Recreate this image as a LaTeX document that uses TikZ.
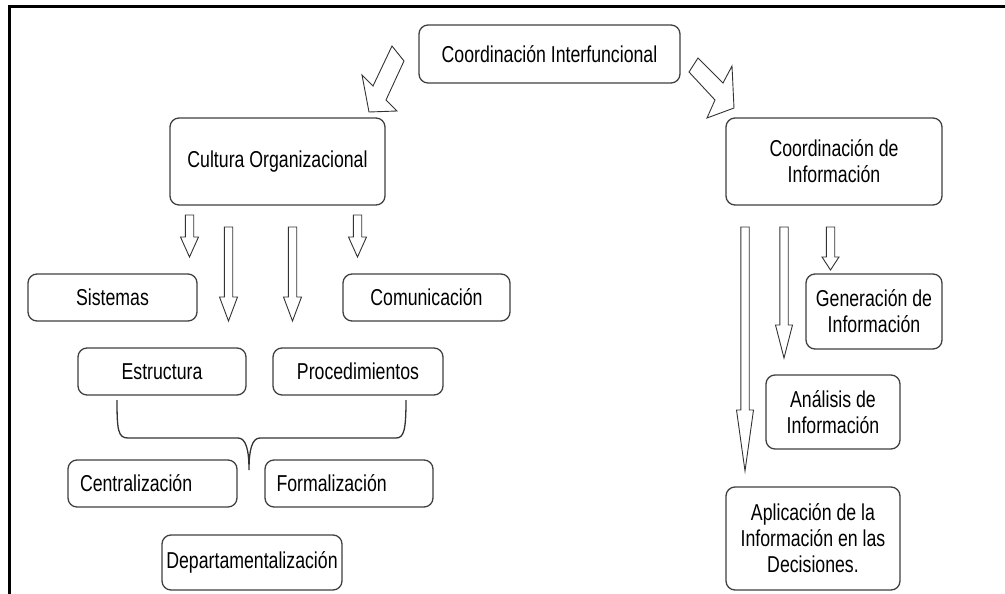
\documentclass[tikz,border=0pt]{standalone}
\usepackage{fontspec}
\setmainfont[FakeStretch=0.77]{Liberation Sans}
\begin{document}
\begin{tikzpicture}[x=1pt,y=-1pt,line width=1pt,
	box/.style={draw=black!75,line width=1.3pt,rounded corners=9pt,fill=white,align=center,inner sep=0pt,font=\fontsize{23}{26}\selectfont},
	blk/.style={draw=black!80,line width=0.9pt,fill=white,line join=miter}]
	\useasboundingbox (0,0) rectangle (1005,594);
	% marco
	\draw[line width=3pt] (9,594) -- (9,6.5) -- (1005,6.5);
	% cajas
	\node[box,minimum width=261pt,minimum height=58pt] (ci) at (549.5,54) {Coordinación Interfuncional};
	\node[box,minimum width=215pt,minimum height=87pt] (co) at (277.5,161.5) {Cultura Organizacional};
	\node[box,minimum width=216pt,minimum height=87pt] (cinf) at (834,161.5) {Coordinación de\\Información};
	\node[box,minimum width=169pt,minimum height=47pt] (sis) at (112.5,297.5) {Sistemas};
	\node[box,minimum width=167pt,minimum height=47pt] (com) at (426.5,297.5) {Comunicación};
	\node[box,minimum width=168pt,minimum height=47pt] (est) at (162,371.5) {Estructura};
	\node[box,minimum width=170pt,minimum height=47pt] (proc) at (358,371.5) {Procedimientos};
	\node[box,minimum width=169pt,minimum height=47pt,text width=145pt,align=left] (cen) at (152.5,483.5) {Centralización};
	\node[box,minimum width=168pt,minimum height=47pt,text width=145pt,align=left] (form) at (349,483.5) {Formalización};
	\node[box,minimum width=180pt,minimum height=55pt] (dep) at (252,562.5) {Departamentalización};
	\node[box,minimum width=136pt,minimum height=75pt] (gen) at (874,311.5) {Generación de\\Información};
	\node[box,minimum width=134pt,minimum height=74pt] (ana) at (833,412) {Análisis de\\Información};
	\node[box,minimum width=174pt,minimum height=103pt] (apl) at (813,538.5) {Aplicación de la\\Información en las\\Decisiones.};
	% flechas grandes
	\draw[blk] (392,46) -- (373,86) -- (362,75) -- (369,112) -- (397,111) -- (386,100) -- (404,61) -- cycle;
	\draw[blk] (698,58) -- (723,83) -- (732,66) -- (734,108) -- (707,118) -- (715,100) -- (689,72) -- cycle;
	% flechas hacia abajo: x/inicio/cabeza/punta/media cabeza
	\foreach \x/\t/\h/\p/\w in {189.5/215/237/257/9, 228.5/227/297/321/9, 292.5/227/297/321/9, 357.5/215/237/257/9,
		745/227/410/471/8.5, 784/227/325/358/8.5, 830.5/227/257/270/8.5}
		\draw[blk] (\x-4.2,\t) -- (\x+4.2,\t) -- (\x+4.2,\h) -- (\x+\w,\h) -- (\x,\p) -- (\x-\w,\h) -- (\x-4.2,\h) -- cycle;
	% llave
	\draw[black!80,line width=1.3pt] (117,400) .. controls (117,430) and (118,438) .. (128,438) -- (238,438)
		.. controls (246,438) and (249,450) .. (249,470) .. controls (249,450) and (252,438) .. (260,438)
		-- (396,438) .. controls (404,438) and (406,430) .. (406,400);
\end{tikzpicture}
\end{document}
